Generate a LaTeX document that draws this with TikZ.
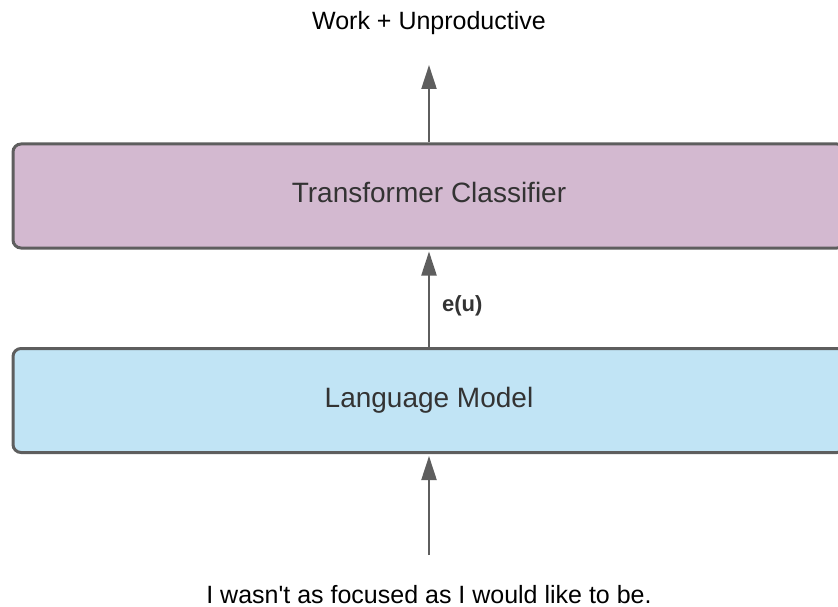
\documentclass[tikz,border=0pt]{standalone}
\usepackage{fontspec}
\setmainfont{Liberation Sans}
\newfontfamily\straightfont{Liberation Sans}
\usetikzlibrary{arrows.meta}
\definecolor{edgegray}{HTML}{5E5E5E}
\definecolor{purplefill}{HTML}{D3B9D0}
\definecolor{bluefill}{HTML}{C1E4F5}
\definecolor{boxtext}{HTML}{333333}
\tikzset{
  layerbox/.style={draw=edgegray, line width=3pt, rounded corners=8pt,
    minimum width=832pt, minimum height=104pt, inner sep=0pt,
    text=boxtext, font=\fontsize{28}{32}\selectfont},
  flow/.style={draw=edgegray, line width=2.2pt,
    -{Triangle[length=24pt,width=15pt]}},
  plaintext/.style={inner sep=0pt, text=black, font=\straightfont\fontsize{25}{30}\selectfont},
}
\begin{document}
\begin{tikzpicture}[x=1pt,y=-1pt]
\useasboundingbox (0,0) rectangle (838,607);
\node[layerbox, fill=purplefill, text depth=8pt] (tc) at (429,196) {Transformer Classifier};
\node[layerbox, fill=bluefill] (lm) at (429,400.5) {Language Model};
\node[plaintext, anchor=base] (out) at (429,30) {Work + Unproductive};
\node[plaintext, anchor=base] (inp) at (429,603) {I wasn't as focused as I would like to be.};
\coordinate (toptip) at (429,65);
\coordinate (bottomtail) at (429,555);
\draw[flow] (tc.north) -- (toptip);
\draw[flow, shorten >=2pt] (lm.north) -- node[pos=0.42, anchor=west, inner sep=0pt, xshift=12pt, text=boxtext, font=\bfseries\fontsize{22}{26}\selectfont] (eu) {e(u)} (tc.south);
\draw[flow, shorten >=2pt] (bottomtail) -- (lm.south);
\end{tikzpicture}
\end{document}
